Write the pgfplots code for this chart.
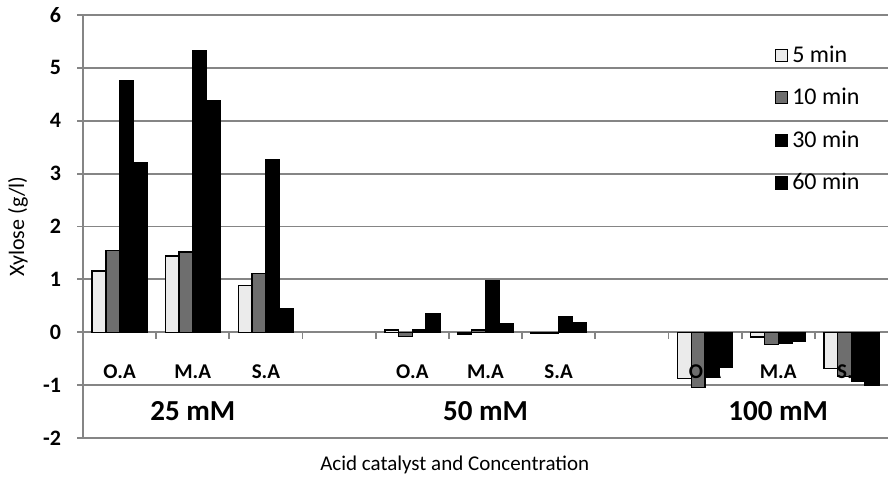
\documentclass[border=0pt]{standalone}
\usepackage{pgfplots}
\pgfplotsset{compat=1.18}
\usepackage{pgfplotstable}
\usepackage{fontspec}
\setmainfont{Carlito}

\definecolor{barlight}{HTML}{EBEBEB}
\definecolor{bargray}{HTML}{6E6E6E}
\definecolor{gridgray}{HTML}{858585}

% Xylose (g/l) per category position; 3 and 7 are spacer slots between concentrations
\pgfplotstableread{
x    t5     t10    t30    t60
0    1.16   1.55   4.76   3.21
1    1.44   1.52   5.33   4.37
2    0.88   1.11   3.26   0.45
4    0.04  -0.08   0.04   0.36
5   -0.03   0.04   0.98   0.16
6   -0.02  -0.02   0.30   0.18
8   -0.88  -1.04  -0.85  -0.66
9   -0.09  -0.23  -0.20  -0.17
10  -0.69  -0.84  -0.92  -1.01
}\xylose

\pgfplotsset{
  sqlegend/.style={legend image code/.code={%
      \draw[##1,line width=0.6pt] (0pt,-3pt) rectangle (6pt,3pt);}},
}

\newcommand\catlabel[2]{\node[font=\fontsize{10.5}{12}\selectfont\bfseries] at (axis cs:#1,-0.74) {#2};}
\newcommand\grouplabel[2]{\node[font=\fontsize{14.5}{16}\selectfont\bfseries] at (axis cs:#1,-1.5) {#2};}

\begin{document}
\begin{tikzpicture}
\begin{axis}[
  scale only axis,
  width=402.5pt, height=211.5pt,
  xmin=-0.5, xmax=10.5, ymin=-2, ymax=6,
  ytick={-2,-1,...,6},
  xtick=\empty,
  axis x line=none,
  axis y line*=left,
  y axis line style={draw=gridgray, line width=0.9pt, -},
  ymajorgrids,
  grid style={draw=gridgray, line width=0.9pt},
  tick align=outside, major tick length=3pt,
  ytick style={draw=gridgray, line width=0.9pt},
  /pgf/number format/assume math mode=true,
  yticklabel style={font=\fontsize{11}{12}\selectfont\bfseries, xshift=-4.5pt},
  ybar=0pt, bar width=0.188,
  clip=false,
  legend style={draw=none, fill=none, at={(axis cs:8.87,5.58)}, anchor=north west,
    font=\fontsize{12}{14}\selectfont, row sep=7.5pt,
    /tikz/every odd column/.append style={column sep=0pt}},
  legend cell align=left,
]
% zero line tick marks between categories
\pgfplotsinvokeforeach{0.5,1.5,2.5,3.5,4.5,5.5,6.5,7.5,8.5,9.5}{
  \draw[gridgray, line width=0.9pt] (axis cs:#1,0) -- ++(0pt,-3.5pt);
}
\draw[gridgray, line width=0.9pt] (axis cs:-0.5,0) -- (axis cs:10.5,0);

\addplot[draw=black, line width=0.7pt, fill=barlight, sqlegend] table[x=x, y=t5] {\xylose};
\addplot[draw=black, line width=0.7pt, fill=bargray, sqlegend] table[x=x, y=t10] {\xylose};
\addplot[draw=black, line width=0.7pt, fill=black, sqlegend] table[x=x, y=t30] {\xylose};
\addplot[draw=black, line width=0.7pt, fill=black, sqlegend] table[x=x, y=t60] {\xylose};
\legend{5 min, 10 min, 30 min, 60 min}

% category and concentration labels
\catlabel{0}{O.A}\catlabel{1}{M.A}\catlabel{2}{S.A}
\catlabel{4}{O.A}\catlabel{5}{M.A}\catlabel{6}{S.A}
\catlabel{8}{O.A}\catlabel{9}{M.A}\catlabel{10}{S.A}
\grouplabel{1}{25 mM}\grouplabel{5}{50 mM}\grouplabel{9}{100 mM}

\node[rotate=90, font=\fontsize{11}{13}\selectfont] at ([xshift=-32.5pt]axis cs:-0.5,2) {Xylose (g/l)};
\node[font=\fontsize{10.5}{12}\selectfont] at (axis cs:4.58,-2.5) {Acid catalyst and Concentration};
\end{axis}
\pgfresetboundingbox
\useasboundingbox (-41.5pt,-22.5pt) rectangle (402.5pt,219pt);
\end{tikzpicture}
\end{document}
